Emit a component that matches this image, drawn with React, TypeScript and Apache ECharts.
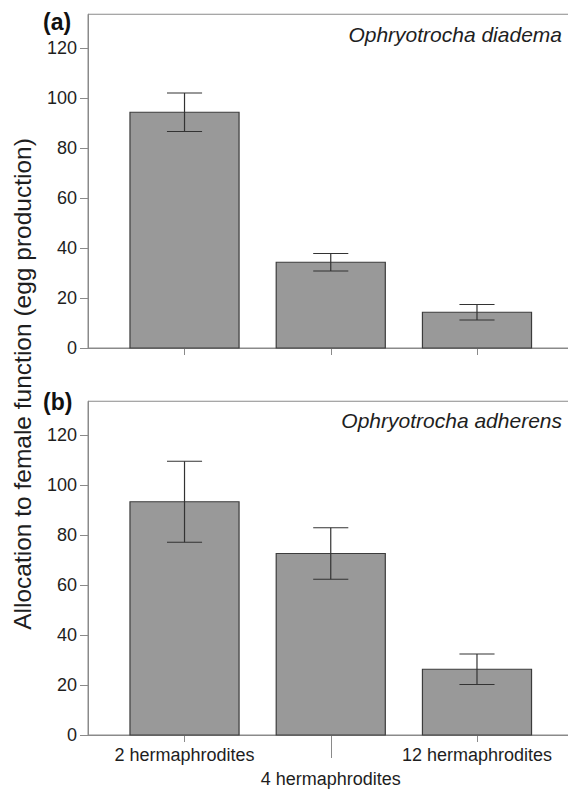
import React, { useEffect, useRef } from "react";
import * as echarts from "echarts";

// Group sizes (x positions 1..3 on the value axis)
const categories = ["2 hermaphrodites", "4 hermaphrodites", "12 hermaphrodites"];
const positions = [1, 2, 3];

// (a) Ophryotrocha diadema: mean egg production and error
const diademaMeans = [94.3, 34.3, 14.3];
const diademaErrors = [7.7, 3.5, 3.1];

// (b) Ophryotrocha adherens: mean egg production and error
const adherensMeans = [93.3, 72.6, 26.3];
const adherensErrors = [16.2, 10.3, 6.1];

const yTicks = [0, 20, 40, 60, 80, 100, 120];
const panelLabels = ["(a)", "(b)"];
const speciesNames = ["Ophryotrocha diadema", "Ophryotrocha adherens"];
const yTitle = "Allocation to female function (egg production)";

const FONT = "Liberation Sans, Arial, Helvetica, sans-serif";
const AXIS_GRAY = "#8a8a8a";
const INK = "#1e1e1e";
const BAR_FILL = "#999999";
const BAR_EDGE = "#3c3c3c";

const HALF_BAR = 0.373;
const HALF_CAP = 0.12;

function barSeries(means: number[], idx: number) {
  return {
    type: "custom",
    xAxisIndex: idx === 0 ? 0 : 1,
    yAxisIndex: idx,
    data: positions.map((p, i) => [p, means[i]]),
    renderItem: (_params: any, api: any) => {
      const x = api.value(0);
      const v = api.value(1);
      const p0 = api.coord([x - HALF_BAR, 0]);
      const p1 = api.coord([x + HALF_BAR, v]);
      return {
        type: "rect",
        shape: { x: p0[0], y: p1[1], width: p1[0] - p0[0], height: p0[1] - p1[1] },
        style: { fill: BAR_FILL, stroke: BAR_EDGE, lineWidth: 1.2 },
      };
    },
  };
}

function errorSeries(means: number[], errs: number[], idx: number) {
  return {
    type: "custom",
    xAxisIndex: idx === 0 ? 0 : 1,
    yAxisIndex: idx,
    z: 5,
    data: positions.map((p, i) => [p, means[i] - errs[i], means[i] + errs[i]]),
    renderItem: (_params: any, api: any) => {
      const x = api.value(0);
      const lo = api.value(1);
      const hi = api.value(2);
      const top = api.coord([x, hi]);
      const bot = api.coord([x, lo]);
      const capL = api.coord([x - HALF_CAP, hi])[0];
      const capR = api.coord([x + HALF_CAP, hi])[0];
      const st = { stroke: "#333333", lineWidth: 1.2 };
      return {
        type: "group",
        children: [
          { type: "line", shape: { x1: top[0], y1: top[1], x2: bot[0], y2: bot[1] }, style: st },
          { type: "line", shape: { x1: capL, y1: top[1], x2: capR, y2: top[1] }, style: st },
          { type: "line", shape: { x1: capL, y1: bot[1], x2: capR, y2: bot[1] }, style: st },
        ],
      };
    },
  };
}

export default function App() {
  const ref = useRef<HTMLDivElement>(null);

  useEffect(() => {
    if (!ref.current) return;
    const chart = echarts.init(ref.current, null, { renderer: "svg" });

    const gridCommon = {
      left: 88,
      right: 0.5,
      height: 333.75,
      show: true,
      borderColor: AXIS_GRAY,
      borderWidth: 1,
      containLabel: false,
    };

    const yAxisCommon = (gridIndex: number) => ({
      type: "value",
      gridIndex,
      min: 0,
      max: 133.5,
      axisLine: { show: true, lineStyle: { color: AXIS_GRAY, width: 1 } },
      axisTick: { show: true, length: 8, customValues: yTicks, lineStyle: { color: AXIS_GRAY } },
      axisLabel: {
        customValues: yTicks,
        margin: 11,
        color: INK,
        fontSize: 18,
        fontFamily: FONT,
      },
      splitLine: { show: false },
    });

    const xBase = (gridIndex: number) => ({
      type: "value",
      gridIndex,
      position: "bottom",
      min: 0.34,
      max: 3.66,
      axisLine: { show: true, onZero: false, lineStyle: { color: AXIS_GRAY, width: 1 } },
      splitLine: { show: false },
    });

    const catName = (v: number) => categories[positions.indexOf(Math.round(v))] ?? "";

    const option = {
      animation: false,
      grid: [
        { ...gridCommon, top: 14.25 },
        { ...gridCommon, top: 401.25 },
      ],
      xAxis: [
        {
          ...xBase(0),
          axisTick: { show: true, length: 7, customValues: positions, lineStyle: { color: AXIS_GRAY } },
          axisLabel: { show: false },
        },
        {
          ...xBase(1),
          axisTick: { show: true, length: 7, customValues: [positions[0], positions[2]], lineStyle: { color: AXIS_GRAY } },
          axisLabel: {
            customValues: [positions[0], positions[2]],
            formatter: (v: number) => catName(v),
            margin: 11,
            color: INK,
            fontSize: 18,
            fontFamily: FONT,
          },
        },
        {
          ...xBase(1),
          axisLine: { show: false, onZero: false },
          axisTick: { show: true, length: 23, customValues: [positions[1]], lineStyle: { color: AXIS_GRAY } },
          axisLabel: {
            customValues: [positions[1]],
            formatter: (v: number) => catName(v),
            margin: 35,
            color: INK,
            fontSize: 18,
            fontFamily: FONT,
          },
        },
      ],
      yAxis: [yAxisCommon(0), yAxisCommon(1)],
      series: [
        barSeries(diademaMeans, 0),
        errorSeries(diademaMeans, diademaErrors, 0),
        barSeries(adherensMeans, 1),
        errorSeries(adherensMeans, adherensErrors, 1),
      ],
      graphic: [
        {
          type: "text",
          x: 22,
          y: 384,
          rotation: Math.PI / 2,
          style: {
            text: yTitle,
            font: `24.5px ${FONT}`,
            fill: INK,
            align: "center",
            verticalAlign: "middle",
          },
        },
        {
          type: "text",
          x: 43,
          y: 22,
          style: { text: panelLabels[0], font: `bold 23px ${FONT}`, fill: "#111", align: "left", verticalAlign: "middle" },
        },
        {
          type: "text",
          x: 43,
          y: 402,
          style: { text: panelLabels[1], font: `bold 23px ${FONT}`, fill: "#111", align: "left", verticalAlign: "middle" },
        },
        {
          type: "text",
          x: 562,
          y: 34,
          style: { text: speciesNames[0], font: `italic 21px ${FONT}`, fill: INK, align: "right", verticalAlign: "middle" },
        },
        {
          type: "text",
          x: 562,
          y: 420,
          style: { text: speciesNames[1], font: `italic 21px ${FONT}`, fill: INK, align: "right", verticalAlign: "middle" },
        },
      ],
    };

    chart.setOption(option as any);
    return () => chart.dispose();
  }, []);

  return (
    <div style={{ position: "absolute", left: 0, top: 0, width: 568, height: 789, overflow: "hidden", background: "#fff" }}>
      <div ref={ref} style={{ width: 574, height: 789 }} />
    </div>
  );
}
